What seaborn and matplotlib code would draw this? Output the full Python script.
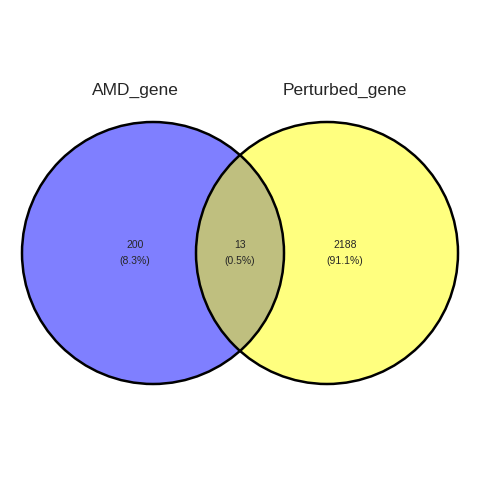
import seaborn as sns
import matplotlib
matplotlib.use("Agg")
from matplotlib import pyplot as plt
from matplotlib.patches import Circle

#data
set_names=['AMD_gene','Perturbed_gene']
set_colors=['blue','yellow']
region_counts=[200,13,2188] #only A, both, only B
total=sum(region_counts)

sns.set_style('white')
plt.rcParams['font.family']=['Liberation Sans','DejaVu Sans']

fig=plt.figure(figsize=(4.8,4.8),dpi=100)
ax=fig.add_axes([0,0,1,1])
ax.set_xlim(0,480)
ax.set_ylim(480,0)
ax.axis('off')

#circles in pixel coords
centers=[(153,253),(327,253)]
r=131
for (cx,cy),c in zip(centers,set_colors):
    ax.add_patch(Circle((cx,cy),r,facecolor=c,alpha=0.5,edgecolor='none'))
for (cx,cy) in centers:
    ax.add_patch(Circle((cx,cy),r,facecolor='none',edgecolor='black',lw=1.8))

#set names
for name,x in zip(set_names,[135,345]):
    ax.text(x,90,name,ha='center',va='center',fontsize=12.5)

#region labels
for n,x in zip(region_counts,[135,240,345]):
    ax.text(x,245,str(n),ha='center',va='center',fontsize=7.5)
    ax.text(x,261,'(%.1f%%)'%(100*n/total),ha='center',va='center',fontsize=7.5)

fig.savefig('out.png',dpi=100,facecolor='white')
